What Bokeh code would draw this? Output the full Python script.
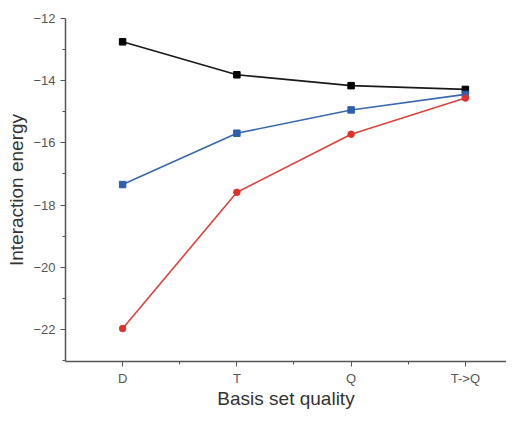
from bokeh.plotting import figure
from bokeh.models import FixedTicker, Range1d
from bokeh.embed import file_html
from bokeh.resources import INLINE

categories = ["D", "T", "Q", "T->Q"]
positions = [1, 2, 3, 4]
black_vals = [-12.75, -13.81, -14.16, -14.28]
blue_vals = [-17.34, -15.69, -14.94, -14.44]
red_vals = [-21.97, -17.59, -15.72, -14.56]
y_major = [-22, -20, -18, -16, -14, -12]
y_minor = [-23, -21, -19, -17, -15, -13]

p = figure(width=506, height=411, output_backend="svg", toolbar_location=None,
           x_range=Range1d(0.5, 4.36), y_range=Range1d(-23.03, -12.0),
           min_border_left=65, min_border_right=0, min_border_top=18, min_border_bottom=40)

p.outline_line_color = None
p.xgrid.visible = False
p.ygrid.visible = False

p.line(positions, black_vals, line_color="#1a1a1a", line_width=1.6)
p.scatter(positions, black_vals, marker="square", size=6.5, color="#000000")
p.line(positions, blue_vals, line_color="#3a68b0", line_width=1.6)
p.scatter(positions, blue_vals, marker="square", size=6.5, color="#2f5fa8")
p.line(positions, red_vals, line_color="#e0413c", line_width=1.6)
p.scatter(positions, red_vals, marker="circle", size=6.5, color="#e0302c")

font = "Liberation Sans"
for ax in (p.xaxis[0], p.yaxis[0]):
    ax.axis_line_color = "#555555"
    ax.axis_line_width = 1.5
    ax.major_tick_line_color = "#555555"
    ax.minor_tick_line_color = "#555555"
    ax.major_tick_out = 5
    ax.major_tick_in = 0
    ax.minor_tick_out = 3
    ax.minor_tick_in = 0
    ax.major_label_text_font = font
    ax.major_label_text_font_size = "13px"
    ax.major_label_text_color = "#555555"
    ax.axis_label_text_font = font
    ax.axis_label_text_font_size = "19px"
    ax.axis_label_text_font_style = "normal"
    ax.axis_label_text_color = "#333333"

p.xaxis.ticker = FixedTicker(ticks=positions, minor_ticks=[1.5, 2.5, 3.5])
p.xaxis.major_label_overrides = {pos: c for pos, c in zip(positions, categories)}
p.xaxis.axis_label = "Basis set quality"
p.xaxis.major_label_standoff = 4
p.xaxis.axis_label_standoff = -1

p.yaxis.ticker = FixedTicker(ticks=y_major, minor_ticks=y_minor)
p.yaxis.axis_label = "Interaction energy"
p.yaxis.major_label_standoff = 5
p.yaxis.axis_label_standoff = 3

open("out.html", "w").write(file_html(p, INLINE))
